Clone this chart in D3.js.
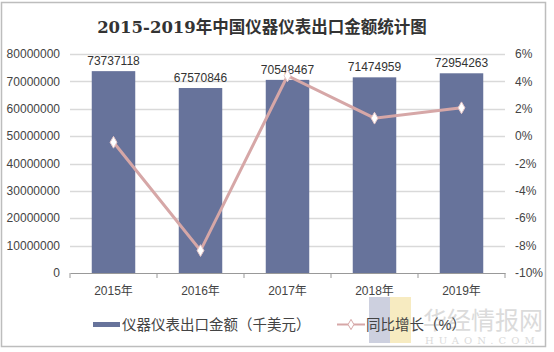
<!DOCTYPE html>
<html>
<head>
<meta charset="utf-8">
<script src="https://cdn.jsdelivr.net/npm/d3@7"></script>
<style>
  body { margin: 0; background: #fff; }
  svg text { font-family: Arial, "Liberation Sans", "Noto Sans CJK SC", sans-serif; }
</style>
</head>
<body>
<div id="chart"></div>
<script>
const years = ['2015年', '2016年', '2017年', '2018年', '2019年']
const exportValues = [73737118, 67570846, 70548467, 71474959, 72954263]
const growthRates = [-0.45, -8.36, 4.41, 1.31, 2.07]
const leftTicks = [0, 10000000, 20000000, 30000000, 40000000, 50000000, 60000000, 70000000, 80000000]
const rightTicks = [-10, -8, -6, -4, -2, 0, 2, 4, 6]

const svgWidth = 554,
  svgHeight = 352
const margin = { top: 54, right: 49, bottom: 79, left: 70 }
const width = svgWidth - margin.left - margin.right
const height = svgHeight - margin.top - margin.bottom

const barColor = '#67739b'
const lineColor = '#d6a7a7'

const root = d3
  .select('#chart')
  .append('svg')
  .attr('width', svgWidth)
  .attr('height', svgHeight)

// outer frame
root
  .append('rect')
  .attr('x', 1.5)
  .attr('y', 2.5)
  .attr('width', 544)
  .attr('height', 344)
  .attr('fill', 'none')
  .attr('stroke', '#bdbdbd')
  .attr('stroke-width', 1.5)

// title
root
  .append('text')
  .attr('x', 262)
  .attr('y', 33)
  .attr('text-anchor', 'middle')
  .style('font-family', '"DejaVu Serif", "Noto Sans CJK SC", serif')
  .style('font-size', '16.5px')
  .style('font-weight', 'bold')
  .attr('fill', '#333')
  .text('2015-2019年中国仪器仪表出口金额统计图')

const svg = root.append('g').attr('transform', 'translate(' + margin.left + ',' + margin.top + ')')

const x = d3.scaleBand().domain(years).range([0, width]).paddingInner(0.5).paddingOuter(0.25)
const xOuter = d3.scaleBand().domain(years).range([0, width])
const y = d3.scaleLinear().domain([0, 80000000]).range([height, 0])
const y2 = d3.scaleLinear().domain([-10, 6]).range([height, 0])

// gridlines
svg
  .append('g')
  .selectAll('line')
  .data(leftTicks.slice(1))
  .enter()
  .append('line')
  .attr('x1', 0)
  .attr('x2', width)
  .attr('y1', (d) => Math.round(y(d)) + 0.5)
  .attr('y2', (d) => Math.round(y(d)) + 0.5)
  .attr('stroke', '#d9d9d9')
  .attr('stroke-width', 1.5)

// left axis labels
svg
  .append('g')
  .selectAll('text')
  .data(leftTicks)
  .enter()
  .append('text')
  .attr('x', -10)
  .attr('y', (d) => y(d))
  .attr('dy', '0.35em')
  .attr('text-anchor', 'end')
  .style('font-size', '12px')
  .attr('fill', '#444')
  .text((d) => d)

// right axis labels
svg
  .append('g')
  .selectAll('text')
  .data(rightTicks)
  .enter()
  .append('text')
  .attr('x', width + 10)
  .attr('y', (d) => y2(d))
  .attr('dy', '0.35em')
  .attr('text-anchor', 'start')
  .style('font-size', '12px')
  .attr('fill', '#444')
  .text((d) => d + '%')

// bars
svg
  .append('g')
  .selectAll('rect')
  .data(exportValues)
  .enter()
  .append('rect')
  .attr('x', (d, i) => x(years[i]))
  .attr('y', (d) => y(d))
  .attr('width', x.bandwidth())
  .attr('height', (d) => height - y(d))
  .attr('fill', barColor)

// bar value labels
svg
  .append('g')
  .selectAll('text')
  .data(exportValues)
  .enter()
  .append('text')
  .attr('x', (d, i) => x(years[i]) + x.bandwidth() / 2)
  .attr('y', (d) => y(d) - 6)
  .attr('text-anchor', 'middle')
  .style('font-size', '12px')
  .attr('fill', '#333')
  .text((d) => d)

// x axis
const xAxis = d3.axisBottom(xOuter).tickSize(0).tickFormat('')
const xg = svg
  .append('g')
  .attr('transform', 'translate(0,' + height + ')')
  .call(xAxis)
xg.select('.domain').attr('stroke', '#999').attr('stroke-width', 1.2)
xg.selectAll('.tick').remove()
xg
  .selectAll('.sep')
  .data(d3.range(years.length + 1))
  .enter()
  .append('line')
  .attr('x1', (d) => d * xOuter.step())
  .attr('x2', (d) => d * xOuter.step())
  .attr('y1', 0)
  .attr('y2', 5)
  .attr('stroke', '#999')
xg
  .selectAll('.lbl')
  .data(years)
  .enter()
  .append('text')
  .attr('x', (d) => xOuter(d) + xOuter.bandwidth() / 2)
  .attr('y', 22)
  .attr('text-anchor', 'middle')
  .style('font-size', '12px')
  .attr('fill', '#444')
  .text((d) => d)

// growth line
const line = d3
  .line()
  .x((d, i) => x(years[i]) + x.bandwidth() / 2)
  .y((d) => y2(d))

svg
  .append('path')
  .datum(growthRates)
  .attr('d', line)
  .attr('stroke', lineColor)
  .style('stroke-width', 3)
  .style('fill', 'none')

svg
  .append('g')
  .selectAll('path')
  .data(growthRates)
  .enter()
  .append('path')
  .attr('d', d3.symbol(d3.symbolDiamond, 40))
  .attr('transform', (d, i) => 'translate(' + (x(years[i]) + x.bandwidth() / 2) + ',' + y2(d) + ')')
  .attr('fill', '#fff')
  .attr('stroke', '#e8c8c8')
  .attr('stroke-width', 1)

// watermark
const wm = root.append('g').attr('opacity', 0.7)
wm.append('rect').attr('x', 369).attr('y', 297).attr('width', 21).attr('height', 46).attr('fill', '#b8bdd2')
wm.append('rect').attr('x', 390).attr('y', 297).attr('width', 21).attr('height', 46).attr('fill', '#f4e3a8')
wm
  .append('text')
  .attr('x', 423)
  .attr('y', 329)
  .style('font-family', '"Noto Sans CJK SC", serif')
  .style('font-size', '24px')
  .attr('fill', '#cccccc')
  .text('华经情报网')
wm
  .append('text')
  .attr('x', 425)
  .attr('y', 344)
  .style('font-family', '"DejaVu Serif", serif')
  .style('font-size', '10px')
  .style('letter-spacing', '5px')
  .attr('fill', '#cccccc')
  .text('HUAON.COM')

// legend
const legend = root.append('g')
legend.append('rect').attr('x', 93).attr('y', 322).attr('width', 27).attr('height', 5).attr('fill', barColor)
legend
  .append('text')
  .attr('x', 122)
  .attr('y', 330)
  .style('font-size', '14.5px')
  .attr('fill', '#444')
  .text('仪器仪表出口金额（千美元）')
legend
  .append('line')
  .attr('x1', 337)
  .attr('x2', 365)
  .attr('y1', 324.5)
  .attr('y2', 324.5)
  .attr('stroke', lineColor)
  .attr('stroke-width', 2)
legend
  .append('path')
  .attr('d', d3.symbol(d3.symbolDiamond, 30))
  .attr('transform', 'translate(351,324.5)')
  .attr('fill', '#fff')
  .attr('stroke', lineColor)
legend
  .append('text')
  .attr('x', 366)
  .attr('y', 330)
  .style('font-size', '14.5px')
  .attr('fill', '#444')
  .text('同比增长（%）')
</script>
</body>
</html>
